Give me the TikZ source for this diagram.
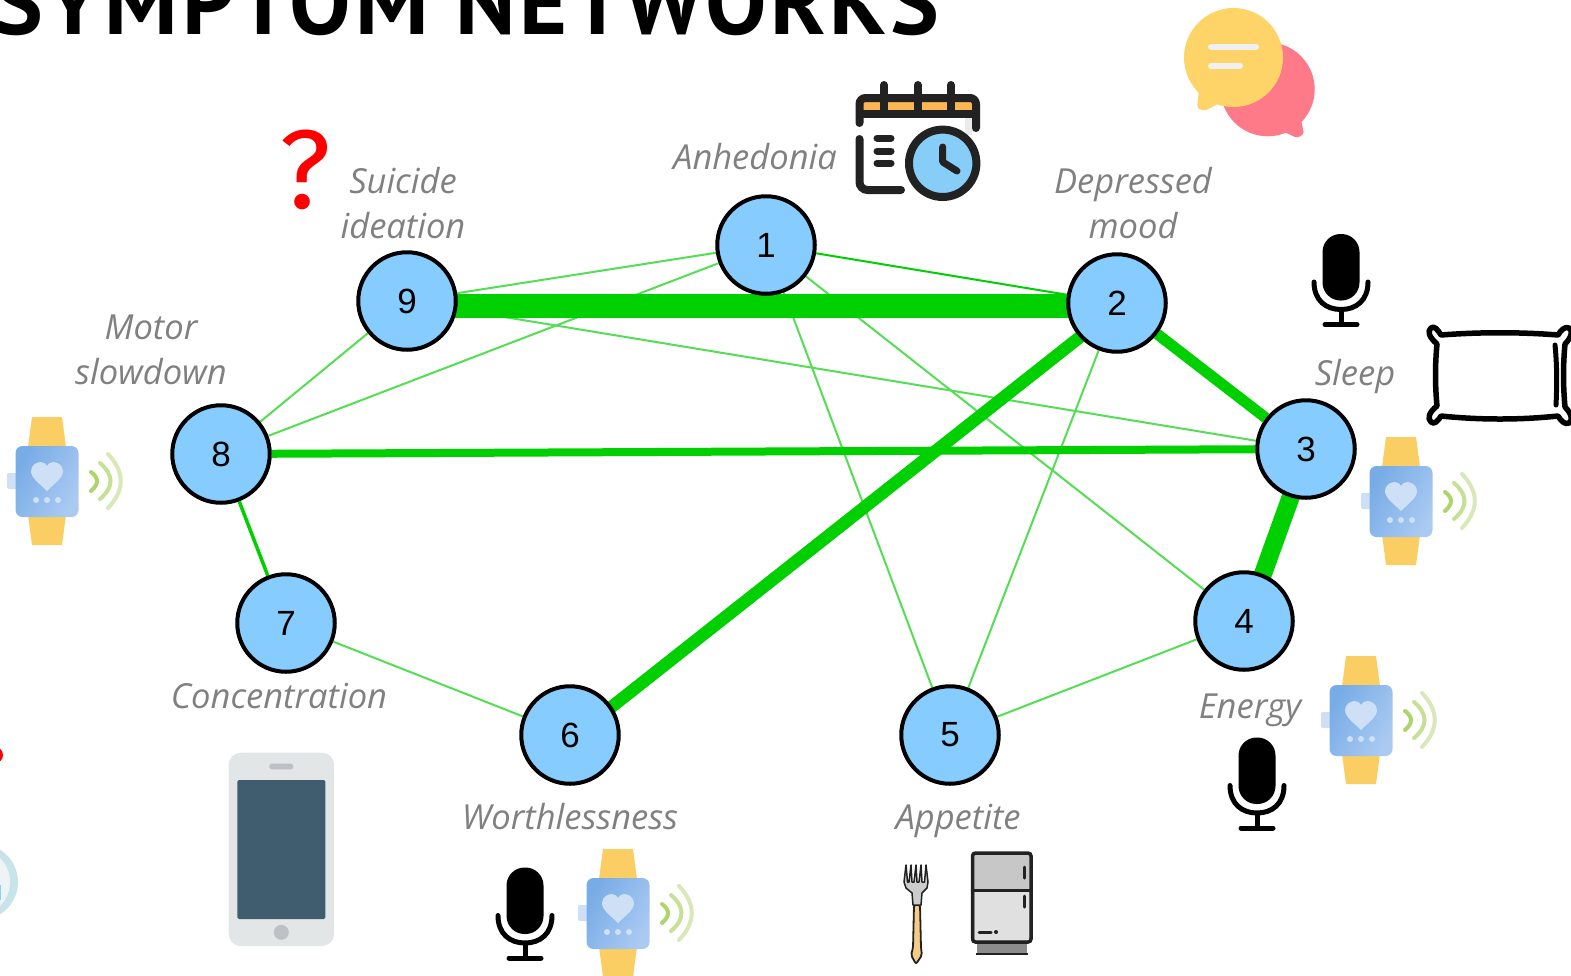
\documentclass[tikz,border=0pt]{standalone}
\usepackage{fontspec}
\usepackage{xcolor}
\usetikzlibrary{backgrounds}
\setmainfont{Liberation Sans}
\newfontfamily\titlefont[LetterSpace=4.0]{PT Sans}
\newfontfamily\markfont{Fira Sans}
\newfontfamily\labelfont{Open Sans}
\definecolor{nodeblue}{RGB}{135,204,255}
\definecolor{edgegreen}{RGB}{0,208,0}
\definecolor{thingreen}{RGB}{84,222,84}
\definecolor{labelgray}{RGB}{128,128,128}
\definecolor{strapyellow}{RGB}{250,206,98}
\definecolor{watchblue}{RGB}{120,172,230}
\definecolor{watchlight}{RGB}{170,202,242}
\definecolor{heartblue}{RGB}{205,224,246}
\definecolor{waveone}{RGB}{174,212,108}
\definecolor{wavetwo}{RGB}{198,224,150}
\definecolor{wavethree}{RGB}{216,232,184}
\definecolor{bubbleyellow}{RGB}{254,212,104}
\definecolor{bubblepink}{RGB}{255,122,136}
\definecolor{inkdark}{RGB}{34,34,34}
\definecolor{bandorange}{RGB}{252,182,84}
\definecolor{clockblue}{RGB}{134,205,248}
\definecolor{phonegray}{RGB}{226,230,231}
\definecolor{phonescreen}{RGB}{63,93,110}
\definecolor{phonebutton}{RGB}{189,193,197}
\definecolor{forktan}{RGB}{245,204,133}
\definecolor{ringblue}{RGB}{200,227,234}
\definecolor{ringpale}{RGB}{238,243,245}
\tikzset{
    symptom/.style={circle, draw=black, line width=4pt, fill=nodeblue, minimum size=97.5pt, inner sep=0pt, font=\fontsize{35}{35}\selectfont},
    tag/.style={text=labelgray, align=center, inner sep=0pt, font=\labelfont\itshape\fontsize{34.5}{45}\selectfont},
    thinedge/.style={thingreen, line width=2pt},
    thickedge/.style={edgegreen},
    pics/watch/.style={code={
        \fill[strapyellow] (-15,-64) -- (15,-64) -- (19,-34) -- (-19,-34) -- cycle;
        \fill[strapyellow] (-15,64) -- (15,64) -- (19,34) -- (-19,34) -- cycle;
        \fill[heartblue, rounded corners=2pt] (-40,-8) rectangle (-28,8);
        \shade[left color=watchblue, right color=watchlight, shading angle=60, rounded corners=7pt] (-31.5,-35) rectangle (31.5,36);
        \fill[heartblue] (0,10) .. controls (-8,2) and (-16,-3) .. (-16,-10) .. controls (-16,-16) and (-10,-19) .. (-6,-19) .. controls (-3,-19) and (-1,-17) .. (0,-15) .. controls (1,-17) and (3,-19) .. (6,-19) .. controls (10,-19) and (16,-16) .. (16,-10) .. controls (16,-3) and (8,2) .. (0,10) -- cycle;
        \fill[heartblue] (-11,19) circle (3);
        \fill[heartblue] (0,19) circle (3);
        \fill[heartblue] (11,19) circle (3);
        \draw[waveone, line width=4pt, line cap=round] (44,-9) .. controls (52,-3) and (52,3) .. (44,10);
        \draw[wavetwo, line width=4pt, line cap=round] (53,-18) .. controls (67,-6) and (67,6) .. (53,18);
        \draw[wavethree, line width=4pt, line cap=round] (61,-27) .. controls (78,-9) and (78,9) .. (61,27);
    }},
    pics/micro/.style={code={
        \fill[black, rounded corners=18pt] (-18.5,-46.5) rectangle (18.5,20);
        \draw[black, line width=5pt, line cap=round] (-27,1.5) .. controls (-27,20) and (-15,29) .. (0,29) .. controls (15,29) and (27,20) .. (27,1.5);
        \draw[black, line width=5pt] (0,29) -- (0,44);
        \draw[black, line width=5pt, line cap=round] (-16,44) -- (16,44);
    }}
}
\begin{document}
\begin{tikzpicture}[x=1pt, y=-1pt]
\useasboundingbox (0,0) rectangle (1571,975);
\clip (0,0) rectangle (1571,975);

% Title
\node[anchor=base west, inner sep=0pt, font=\titlefont\bfseries\fontsize{92}{92}\selectfont] (title) at (-6,34) {SYMPTOM NETWORKS};

% Symptoms
\node[symptom] (anhedonia) at (766,245) {1};
\node[symptom] (mood) at (1117,303) {2};
\node[symptom] (sleep) at (1306,449) {3};
\node[symptom] (energy) at (1244,621) {4};
\node[symptom] (appetite) at (950,735) {5};
\node[symptom] (worth) at (570,735) {6};
\node[symptom] (focus) at (286,623) {7};
\node[symptom] (motor) at (221,454) {8};
\node[symptom] (suicide) at (407,301) {9};

% Edges
\begin{scope}[on background layer]
\draw[thinedge] (suicide) -- (anhedonia);
\draw[thinedge] (anhedonia) -- (motor);
\draw[thinedge] (suicide) -- (motor);
\draw[thinedge] (suicide) -- (sleep);
\draw[thinedge] (anhedonia) -- (energy);
\draw[thinedge] (anhedonia) -- (appetite);
\draw[thinedge] (mood) -- (appetite);
\draw[thinedge] (energy) -- (appetite);
\draw[thinedge] (focus) -- (worth);
\draw[thickedge, line width=2pt] (anhedonia) -- (mood);
\draw[thickedge, line width=3.5pt] (motor) -- (focus);
\draw[thickedge, line width=8pt] (motor) -- (sleep);
\draw[thickedge, line width=11pt] (mood) -- (sleep);
\draw[thickedge, line width=12.5pt] ([xshift=6pt]mood.center) -- ([xshift=6pt]worth.center);
\draw[thickedge, line width=18pt] ([xshift=2pt]sleep.center) -- ([xshift=2pt]energy.center);
\draw[thickedge, line width=24pt] ([yshift=-5pt]suicide.center) -- ([yshift=-3pt]mood.center);
\end{scope}

% Labels
\node[tag] (anhedonialabel) at (755,157) {Anhedonia};
\node[tag] (moodlabel) at (1133,203) {Depressed\\mood};
\node[tag] (sleeplabel) at (1355,377) {Sleep};
\node[tag] (energylabel) at (1250,710) {Energy};
\node[tag] (appetitelabel) at (958,821) {Appetite};
\node[tag] (worthlabel) at (570,817) {Worthlessness};
\node[tag] (focuslabel) at (279,696) {Concentration};
\node[tag] (motorlabel) at (151,350) {Motor\\slowdown};
\node[tag] (suicidelabel) at (403,203) {Suicide\\ideation};
\node[text=red, inner sep=0pt, font=\markfont\fontsize{112}{112}\selectfont] (unknown) at (305,170) {?};

% Watches
\pic at (47,481) {watch};
\pic at (1401,501) {watch};
\pic at (1361,720) {watch};
\pic at (618,913) {watch};

% Microphones
\pic at (1341,280.5) {micro};
\pic at (1257,784) {micro};
\pic at (525,914) {micro};

% Calendar
\fill[black!8] (965,118) rectangle (972,135);
\fill[bandorange] (860,100) rectangle (975,112);
\draw[inkdark, line width=8pt, line cap=round, rounded corners=6pt] (859.5,123) -- (859.5,98) -- (976,98) -- (976,128);
\draw[inkdark, line width=8pt] (859.5,114) -- (976,114);
\draw[inkdark, line width=8pt, line cap=round] (884,85) -- (884,110);
\draw[inkdark, line width=8pt, line cap=round] (917.7,85) -- (917.7,110);
\draw[inkdark, line width=8pt, line cap=round] (951,85) -- (951,110);
\draw[inkdark, line width=8pt, line cap=round, rounded corners=8pt] (859.5,139) -- (859.5,190) -- (901,190);
\draw[inkdark, line width=7pt, line cap=round] (877,138) -- (891,138);
\draw[inkdark, line width=7pt, line cap=round] (877,151) -- (891,151);
\draw[inkdark, line width=7pt, line cap=round] (877,163) -- (891,163);
\draw[inkdark, line width=8pt, fill=clockblue] (942.7,163.3) circle (33.7);
\draw[inkdark, line width=7pt, line cap=round, line join=round] (942.7,147) -- (942.7,162) -- (957,171);

% Chat bubbles
\fill[bubblepink] (1267.7,89.3) circle (47);
\fill[bubblepink, rounded corners=2pt] (1300,115) -- (1304,134) -- (1297,138) -- (1280,130) -- cycle;
\fill[bubbleyellow] (1233.5,57.5) circle (49.5);
\fill[bubbleyellow, rounded corners=2pt] (1199,90) -- (1197,108) -- (1204,111) -- (1222,102) -- cycle;
\draw[black!6, line width=6pt, line cap=round] (1211,46.7) -- (1256,46.7);
\draw[black!6, line width=6pt, line cap=round] (1211,65.7) -- (1240,65.7);

% Pillow
\draw[black, line width=5.5pt, line join=round] (1441,335) .. controls (1480,332) and (1520,332) .. (1558,335) .. controls (1561,330) and (1565,326) .. (1569,328) .. controls (1573,330) and (1572,337) .. (1565,344) .. controls (1563,365) and (1563,385) .. (1565,407) .. controls (1572,414) and (1573,421) .. (1569,423) .. controls (1565,425) and (1561,421) .. (1558,416) .. controls (1520,420) and (1480,420) .. (1441,416) .. controls (1438,421) and (1434,425) .. (1431,422) .. controls (1427,419) and (1429,412) .. (1437,406) .. controls (1435,385) and (1435,365) .. (1437,344) .. controls (1429,337) and (1427,331) .. (1431,328) .. controls (1434,325) and (1438,330) .. (1441,335) -- cycle;
\draw[black, line width=5pt, line cap=round] (1555,345) .. controls (1557,365) and (1557,385) .. (1556,405);

% Phone
\fill[phonegray, rounded corners=12pt] (228.7,752.7) rectangle (334,946);
\fill[phonescreen, rounded corners=1.5pt] (237.3,780) rectangle (325.3,919);
\fill[phonebutton, rounded corners=2.5pt] (269.3,763.7) rectangle (293.3,769.3);
\fill[phonebutton] (281.3,932.3) circle (7.5);

% Fork
\draw[inkdark, fill=forktan, line width=1.8pt, rounded corners=2pt] (914,905) -- (913,948) -- (911,955) -- (916,964) -- (922,955) -- (921,948) -- (920,905) -- cycle;
\draw[inkdark, fill=black!20, line width=1.5pt, line join=round] (906,865) -- (904,882) -- (906,888) -- (912,893) -- (913,905) -- (921,905) -- (922,893) -- (927,888) -- (928,882) -- (926,865) -- (924.5,882) -- (922,882) -- (921,865) -- (919,882) -- (917,882) -- (916,865) -- (914,882) -- (912,882) -- (911,865) -- (909,882) -- (907.5,882) -- cycle;

% Fridge
\fill[black!45] (977,941) rectangle (1027,953);
\draw[inkdark, line width=2.5pt] (976,954) -- (1028,954);
\draw[inkdark, line width=3.5pt, fill=black!22, rounded corners=3pt] (972.5,853) rectangle (1031,942);
\fill[black!12] (974.5,891) rectangle (1029,940);
\draw[inkdark, line width=3pt] (972.5,890) -- (1031,890);
\draw[inkdark, line width=3pt, line cap=round] (1024,867) -- (1024,878);
\draw[inkdark, line width=3pt, line cap=round] (1024,896) -- (1024,907);
\draw[inkdark, line width=3pt, line cap=round] (979,932) -- (991,932);
\fill[inkdark] (996,932) circle (2);

% Clipped icons at left edge
\fill[red] (-5,755) circle (8);
\fill[ringblue] (-20,882) circle (38);
\fill[ringpale] (-24,882) circle (34);
\fill[cyan!50] (-2,885) rectangle (1,900);

\end{tikzpicture}
\end{document}
